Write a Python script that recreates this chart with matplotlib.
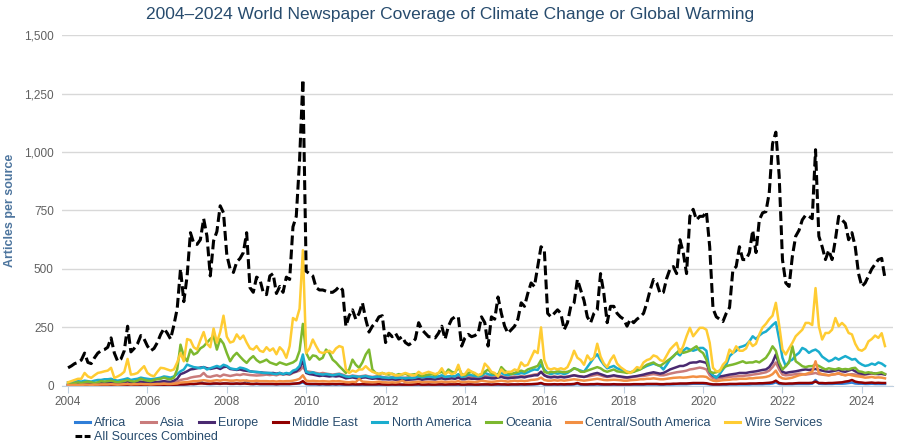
import numpy as np
import matplotlib
matplotlib.use("Agg")
import matplotlib.pyplot as plt
from matplotlib.lines import Line2D

plt.rcParams['font.family'] = ['Liberation Sans', 'DejaVu Sans']

# monthly values, Jan 2004 .. Aug 2024 (one row per year)
africa = [
    1, 1, 1, 1, 1, 2, 1, 1, 1, 2, 2, 2,
    2, 2, 2, 2, 2, 2, 3, 2, 2, 2, 3, 2,
    2, 2, 2, 3, 3, 3, 3, 3, 3, 4, 5, 5,
    6, 8, 7, 8, 20, 10, 8, 7, 8, 9, 8, 10,
    10, 8, 8, 9, 8, 9, 22, 8, 7, 8, 7, 7,
    7, 7, 7, 6, 7, 7, 7, 7, 8, 9, 10, 15,
    7, 6, 6, 6, 5, 6, 5, 5, 6, 5, 6, 5,
    4, 4, 5, 4, 4, 5, 4, 4, 4, 4, 5, 4,
    4, 4, 4, 4, 4, 4, 4, 4, 4, 4, 5, 4,
    4, 4, 4, 4, 4, 5, 4, 4, 5, 4, 5, 4,
    4, 5, 4, 4, 4, 4, 5, 5, 4, 5, 5, 5,
    5, 4, 5, 5, 5, 5, 5, 5, 6, 6, 7, 10,
    5, 5, 5, 5, 5, 5, 5, 5, 5, 6, 8, 5,
    5, 5, 5, 5, 6, 5, 5, 5, 5, 5, 5, 5,
    5, 5, 5, 5, 5, 5, 5, 6, 6, 6, 6, 5,
    5, 6, 6, 6, 7, 7, 7, 7, 8, 9, 9, 9,
    9, 8, 6, 5, 5, 5, 5, 5, 6, 6, 6, 6,
    6, 6, 6, 7, 7, 7, 7, 8, 8, 10, 15, 8,
    7, 7, 7, 7, 8, 8, 8, 8, 8, 9, 25, 9,
    8, 8, 8, 8, 9, 9, 9, 10, 12, 14, 10, 9,
    9, 8, 8, 9, 8, 8, 8, 8,
]
asia = [
    4, 5, 5, 6, 6, 7, 7, 6, 7, 8, 9, 9,
    9, 10, 8, 8, 9, 10, 14, 10, 10, 12, 13, 12,
    12, 11, 12, 13, 14, 15, 14, 13, 15, 18, 25, 28,
    30, 35, 38, 40, 42, 55, 40, 38, 42, 45, 40, 48,
    45, 42, 45, 48, 46, 50, 48, 46, 45, 44, 45, 46,
    48, 46, 48, 45, 50, 48, 50, 48, 55, 60, 65, 80,
    62, 60, 58, 55, 52, 55, 52, 50, 48, 50, 52, 48,
    42, 40, 44, 42, 40, 42, 44, 40, 38, 40, 42, 38,
    36, 34, 38, 35, 36, 34, 35, 36, 34, 36, 40, 35,
    38, 40, 38, 36, 40, 42, 38, 40, 42, 40, 45, 36,
    35, 40, 38, 36, 35, 38, 42, 40, 38, 40, 45, 42,
    38, 36, 38, 40, 38, 42, 40, 42, 45, 48, 50, 60,
    45, 40, 38, 40, 38, 40, 38, 40, 42, 45, 42, 40,
    38, 40, 42, 45, 48, 45, 40, 38, 40, 42, 40, 38,
    35, 34, 36, 38, 40, 42, 42, 45, 48, 50, 48, 45,
    45, 48, 52, 55, 58, 60, 62, 65, 70, 72, 75, 78,
    75, 70, 45, 32, 30, 32, 35, 36, 38, 40, 40, 42,
    42, 44, 45, 48, 50, 52, 55, 58, 65, 80, 100, 70,
    48, 45, 46, 48, 50, 52, 50, 48, 50, 52, 55, 50,
    48, 46, 45, 48, 50, 52, 48, 46, 48, 50, 48, 45,
    45, 48, 50, 52, 50, 52, 50, 50,
]
europe = [
    5, 6, 6, 7, 8, 10, 9, 8, 9, 10, 12, 12,
    12, 14, 12, 10, 12, 14, 20, 14, 15, 16, 18, 16,
    15, 14, 15, 16, 18, 20, 18, 17, 22, 30, 50, 55,
    62, 70, 72, 75, 78, 80, 75, 72, 75, 78, 72, 80,
    82, 72, 70, 68, 70, 66, 64, 62, 60, 58, 58, 56,
    55, 54, 55, 52, 55, 50, 52, 50, 58, 62, 75, 105,
    55, 50, 48, 45, 42, 44, 42, 40, 42, 40, 42, 38,
    32, 34, 36, 33, 32, 35, 36, 33, 30, 32, 30, 28,
    28, 27, 28, 26, 27, 26, 25, 26, 27, 28, 30, 26,
    28, 29, 28, 27, 30, 32, 28, 30, 32, 30, 35, 28,
    28, 32, 30, 30, 28, 30, 35, 34, 32, 32, 35, 38,
    34, 32, 34, 35, 36, 38, 36, 40, 42, 45, 45, 60,
    45, 38, 36, 38, 36, 38, 36, 38, 42, 45, 42, 40,
    38, 42, 48, 52, 55, 50, 45, 40, 42, 45, 42, 40,
    38, 36, 38, 40, 42, 45, 48, 52, 55, 58, 55, 52,
    55, 62, 70, 75, 80, 85, 85, 90, 98, 100, 100, 105,
    102, 98, 60, 42, 38, 40, 42, 45, 48, 50, 52, 55,
    55, 55, 58, 60, 62, 65, 68, 70, 80, 100, 134, 90,
    60, 55, 58, 60, 62, 65, 68, 70, 68, 70, 72, 68,
    65, 62, 60, 62, 65, 68, 62, 60, 65, 70, 62, 55,
    52, 50, 52, 55, 52, 50, 52, 48,
]
middle_east = [
    1, 1, 1, 2, 1, 2, 2, 1, 2, 2, 2, 2,
    2, 3, 2, 2, 2, 3, 4, 2, 3, 3, 3, 3,
    3, 3, 3, 3, 4, 4, 4, 3, 4, 5, 6, 6,
    7, 8, 8, 9, 10, 10, 9, 9, 10, 10, 9, 10,
    10, 9, 9, 10, 9, 10, 9, 8, 8, 9, 8, 8,
    8, 8, 8, 7, 8, 8, 8, 8, 9, 10, 12, 20,
    9, 8, 8, 8, 7, 8, 7, 7, 8, 7, 8, 7,
    6, 6, 7, 6, 6, 7, 6, 6, 6, 6, 7, 6,
    5, 5, 6, 5, 6, 5, 5, 5, 5, 6, 7, 5,
    5, 6, 5, 5, 6, 6, 5, 6, 6, 6, 7, 5,
    5, 6, 6, 5, 5, 6, 6, 6, 5, 6, 7, 6,
    6, 5, 6, 6, 6, 7, 6, 7, 7, 8, 9, 12,
    7, 6, 6, 7, 6, 7, 6, 7, 7, 8, 12, 7,
    6, 6, 7, 7, 8, 7, 6, 6, 6, 7, 6, 6,
    6, 6, 6, 7, 7, 7, 7, 8, 8, 8, 8, 7,
    7, 8, 8, 9, 9, 10, 10, 10, 11, 12, 12, 12,
    12, 11, 8, 6, 6, 6, 7, 7, 8, 8, 8, 9,
    9, 9, 10, 10, 10, 11, 11, 12, 13, 15, 22, 12,
    10, 9, 10, 10, 11, 12, 12, 12, 12, 13, 18, 12,
    12, 11, 12, 12, 13, 14, 15, 18, 20, 25, 18, 15,
    14, 12, 13, 14, 12, 13, 12, 12,
]
north_america = [
    15, 15, 18, 20, 18, 22, 20, 18, 22, 25, 25, 28,
    28, 30, 25, 22, 25, 28, 32, 25, 28, 30, 35, 32,
    30, 28, 30, 32, 35, 40, 38, 35, 40, 50, 62, 70,
    91, 85, 80, 78, 75, 80, 70, 75, 80, 85, 80, 90,
    85, 75, 72, 70, 78, 75, 70, 62, 60, 60, 58, 55,
    55, 55, 52, 50, 55, 50, 55, 52, 65, 70, 85, 134,
    60, 55, 58, 52, 50, 48, 50, 48, 45, 48, 50, 45,
    40, 38, 42, 40, 38, 40, 42, 38, 36, 38, 40, 36,
    35, 34, 36, 33, 35, 34, 32, 34, 33, 35, 40, 36,
    38, 40, 38, 36, 40, 45, 38, 40, 42, 40, 50, 38,
    40, 48, 45, 42, 40, 42, 55, 50, 45, 48, 50, 55,
    48, 45, 50, 52, 50, 55, 52, 58, 65, 70, 68, 90,
    70, 55, 50, 55, 52, 55, 50, 55, 65, 75, 70, 65,
    60, 80, 100, 120, 135, 110, 90, 75, 80, 85, 75, 70,
    65, 60, 58, 60, 70, 72, 78, 85, 90, 95, 90, 85,
    70, 90, 112, 125, 141, 130, 150, 162, 155, 150, 155, 162,
    162, 150, 62, 45, 34, 50, 70, 90, 127, 140, 150, 165,
    169, 175, 190, 212, 200, 215, 226, 232, 245, 260, 272, 200,
    120, 84, 105, 112, 130, 141, 162, 155, 141, 150, 155, 145,
    125, 115, 105, 110, 120, 112, 120, 127, 120, 112, 115, 100,
    91, 85, 88, 95, 90, 100, 95, 85,
]
oceania = [
    10, 8, 12, 15, 12, 15, 18, 15, 12, 15, 20, 18,
    20, 22, 18, 15, 18, 20, 25, 20, 18, 22, 30, 25,
    22, 20, 25, 28, 30, 35, 30, 28, 35, 70, 176, 127,
    105, 155, 134, 141, 160, 169, 185, 200, 212, 155, 200, 180,
    140, 105, 127, 141, 125, 110, 98, 115, 127, 110, 100, 105,
    112, 100, 95, 90, 100, 95, 90, 95, 100, 110, 150, 265,
    141, 112, 130, 127, 112, 120, 155, 141, 112, 100, 84, 70,
    55, 70, 112, 90, 77, 100, 134, 155, 70, 55, 50, 55,
    50, 48, 52, 45, 50, 48, 52, 45, 48, 50, 45, 42,
    45, 48, 50, 45, 55, 60, 50, 70, 60, 55, 80, 50,
    45, 55, 60, 50, 45, 50, 60, 70, 55, 50, 45, 80,
    65, 55, 50, 55, 60, 65, 60, 70, 75, 80, 85, 110,
    60, 55, 60, 58, 62, 60, 58, 60, 65, 75, 70, 60,
    60, 65, 70, 75, 80, 75, 65, 60, 65, 70, 62, 60,
    58, 55, 58, 60, 65, 70, 80, 90, 95, 100, 90, 85,
    95, 105, 115, 127, 140, 155, 141, 145, 150, 160, 169, 150,
    140, 112, 62, 55, 58, 65, 75, 84, 88, 91, 95, 100,
    105, 98, 100, 100, 105, 100, 110, 120, 141, 169, 150, 100,
    70, 84, 100, 169, 105, 95, 84, 80, 84, 84, 91, 85,
    77, 70, 75, 72, 70, 75, 70, 72, 70, 75, 77, 62,
    60, 55, 58, 55, 52, 55, 58, 50,
]
central_south_america = [
    3, 3, 4, 4, 4, 5, 5, 4, 5, 5, 6, 6,
    6, 7, 6, 5, 6, 7, 8, 6, 7, 7, 8, 7,
    7, 6, 7, 8, 8, 9, 8, 8, 9, 10, 14, 15,
    16, 18, 20, 20, 22, 24, 22, 20, 22, 24, 22, 25,
    24, 22, 22, 24, 22, 23, 22, 20, 20, 22, 20, 20,
    20, 19, 20, 18, 20, 19, 20, 20, 22, 25, 30, 45,
    22, 20, 21, 20, 19, 20, 19, 18, 20, 19, 20, 18,
    16, 15, 17, 16, 30, 18, 17, 16, 15, 16, 18, 15,
    15, 14, 15, 14, 16, 22, 15, 14, 15, 16, 18, 15,
    16, 17, 16, 15, 17, 18, 16, 17, 18, 17, 20, 16,
    16, 18, 17, 16, 18, 22, 20, 18, 17, 18, 20, 22,
    20, 18, 20, 22, 20, 22, 20, 22, 25, 26, 28, 35,
    25, 22, 22, 24, 22, 24, 22, 24, 26, 28, 26, 24,
    22, 24, 26, 28, 30, 28, 25, 24, 25, 26, 25, 24,
    22, 22, 24, 25, 26, 28, 28, 30, 30, 32, 30, 28,
    28, 30, 32, 34, 35, 36, 35, 36, 38, 40, 38, 40,
    40, 38, 28, 22, 20, 22, 24, 25, 26, 28, 28, 30,
    30, 30, 32, 32, 34, 35, 36, 38, 42, 50, 65, 40,
    32, 30, 32, 35, 40, 45, 48, 50, 55, 60, 105, 55,
    50, 48, 45, 48, 50, 55, 48, 45, 48, 45, 42, 40,
    38, 35, 36, 38, 35, 36, 35, 32,
]
wire_services = [
    15, 20, 25, 30, 30, 55, 40, 34, 45, 55, 58, 62,
    65, 77, 34, 40, 48, 60, 115, 48, 50, 55, 70, 84,
    55, 45, 41, 60, 77, 75, 70, 65, 70, 100, 140, 105,
    200, 195, 165, 155, 195, 230, 180, 165, 245, 185, 230, 300,
    210, 185, 190, 220, 200, 215, 185, 160, 155, 170, 150, 145,
    165, 150, 160, 135, 165, 150, 120, 170, 290, 280, 330, 580,
    140, 160, 198, 170, 145, 140, 145, 150, 140, 160, 170, 165,
    70, 55, 65, 60, 70, 70, 84, 70, 60, 55, 50, 55,
    50, 55, 50, 45, 45, 50, 55, 50, 45, 45, 60, 50,
    55, 60, 55, 50, 55, 75, 50, 60, 50, 55, 90, 45,
    50, 70, 60, 55, 45, 50, 95, 80, 60, 55, 40, 70,
    55, 60, 60, 70, 65, 100, 85, 90, 120, 150, 140, 250,
    110, 75, 70, 75, 70, 75, 70, 80, 110, 150, 120, 110,
    90, 130, 110, 120, 180, 125, 95, 80, 110, 130, 95, 80,
    70, 60, 55, 65, 80, 75, 100, 110, 115, 130, 125, 110,
    105, 130, 155, 170, 184, 141, 170, 212, 248, 212, 230, 248,
    248, 240, 184, 77, 62, 62, 90, 105, 155, 141, 169, 150,
    150, 160, 190, 170, 180, 220, 250, 265, 285, 300, 355, 260,
    155, 134, 160, 184, 212, 226, 240, 269, 269, 260, 418, 255,
    198, 226, 226, 240, 290, 255, 269, 255, 226, 220, 180, 155,
    150, 160, 190, 200, 215, 205, 225, 170,
]
all_sources = [
    77, 85, 95, 100, 110, 140, 100, 95, 120, 140, 150, 155,
    165, 205, 140, 105, 115, 150, 255, 145, 160, 180, 215, 200,
    170, 150, 160, 185, 220, 245, 225, 200, 260, 330, 500, 360,
    470, 655, 610, 605, 625, 715, 640, 470, 620, 660, 770, 740,
    560, 500, 485, 530, 545, 570, 655, 420, 400, 465, 455, 400,
    390, 470, 480, 395, 425, 400, 465, 455, 680, 725, 965, 1310,
    490, 480, 470, 420, 410, 410, 405, 400, 400, 410, 425, 410,
    255, 300, 325, 285, 310, 355, 285, 230, 255, 270, 295, 300,
    185, 225, 210, 225, 200, 210, 185, 175, 185, 200, 270, 240,
    225, 210, 210, 205, 225, 255, 200, 255, 285, 295, 295, 170,
    205, 220, 210, 215, 225, 295, 270, 170, 295, 285, 380, 310,
    255, 225, 240, 255, 285, 355, 340, 395, 440, 425, 510, 595,
    580, 310, 295, 310, 325, 310, 240, 270, 340, 355, 455, 410,
    365, 295, 270, 310, 325, 480, 395, 270, 340, 340, 310, 295,
    285, 255, 285, 270, 285, 295, 310, 355, 410, 455, 440, 395,
    400, 460, 500, 510, 480, 625, 570, 480, 725, 755, 710, 725,
    725, 745, 595, 330, 295, 285, 275, 310, 335, 495, 510, 595,
    540, 540, 570, 665, 570, 710, 740, 745, 825, 1035, 1085, 900,
    540, 440, 425, 555, 640, 665, 710, 730, 725, 715, 1010, 640,
    595, 540, 580, 540, 625, 725, 710, 695, 625, 655, 595, 480,
    425, 440, 470, 500, 520, 540, 545, 460,
]

names = ["Africa", "Asia", "Europe", "Middle East", "North America",
         "Oceania", "Central/South America", "Wire Services"]
colors = ["#2f7ed8", "#c97b7b", "#492970", "#910000", "#1aadce",
          "#7cb82f", "#f28f43", "#ffcc33"]
series = [africa, asia, europe, middle_east, north_america,
          oceania, central_south_america, wire_services]

years = 2004 + np.arange(len(all_sources)) / 12.0

fig = plt.figure(figsize=(9, 4.45), dpi=100)
ax = fig.add_axes([0.069, 0.133, 0.923, 0.788])

for vals, name, c in zip(series, names, colors):
    ax.plot(years, vals, color=c, lw=1.8, label=name, solid_joinstyle='round')
ax.plot(years, all_sources, color='black', lw=2.2, dashes=(3.2, 1.4),
        dash_capstyle='butt', label="All Sources Combined")

ax.set_xlim(2003.85, 2024.78)
ax.set_ylim(0, 1500)
ax.set_yticks(range(0, 1501, 250))
ax.set_yticklabels(["{:,}".format(v) for v in range(0, 1501, 250)])
ax.set_xticks(range(2004, 2025, 2))
ax.grid(axis='y', color='#d8d8d8', lw=1)
ax.set_axisbelow(True)
for s in ['top', 'right', 'left']:
    ax.spines[s].set_visible(False)
ax.spines['bottom'].set_color('#c0d0e0')
ax.tick_params(axis='y', length=0, labelsize=8.5, labelcolor='#606060', pad=6)
ax.tick_params(axis='x', length=5, color='#c0d0e0', labelsize=8.5,
               labelcolor='#606060', pad=2)

ax.set_ylabel("Articles per source", color='#4d759e', fontsize=9,
              fontweight='bold', labelpad=6)
fig.text(0.5, 0.968, "2004\u20132024 World Newspaper Coverage of Climate Change or Global Warming",
         ha='center', va='center', fontsize=12.5, color='#274b6d')

h1 = [Line2D([], [], color=c, lw=2.2) for c in colors]
leg1 = fig.legend(h1, names, loc='center left', bbox_to_anchor=(0.083, 0.049),
                  ncol=8, frameon=False, fontsize=9, handlelength=1.2,
                  handletextpad=0.35, columnspacing=1.15, borderpad=0,
                  borderaxespad=0)
for t in leg1.get_texts():
    t.set_color('#274b6d')
h2 = [Line2D([], [], color='black', lw=2.2, dashes=(2.2, 0.8))]
leg2 = fig.legend(h2, ["All Sources Combined"], loc='center left',
                  bbox_to_anchor=(0.083, 0.018), frameon=False, fontsize=9,
                  handlelength=1.2, handletextpad=0.35, borderpad=0,
                  borderaxespad=0)
for t in leg2.get_texts():
    t.set_color('#274b6d')

fig.savefig("out.png", dpi=100)
